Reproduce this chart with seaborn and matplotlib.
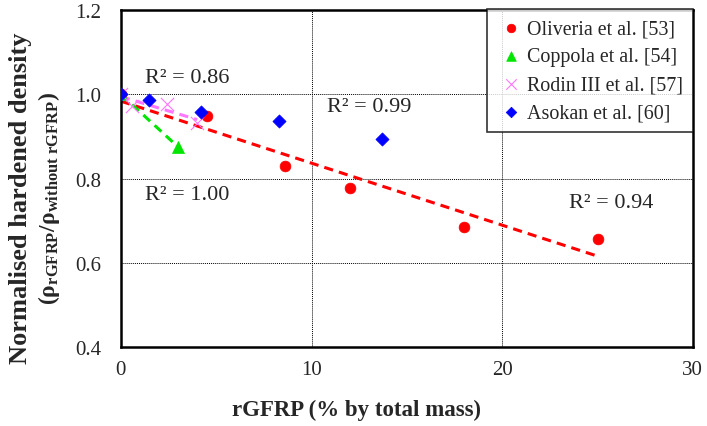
import numpy as np
import pandas as pd
import seaborn as sns
import matplotlib.pyplot as plt

# rGFRP content (% by total mass) vs normalised hardened density
oliveria_x = [0, 4.5, 8.6, 12.0, 18.0, 25.0]
oliveria_y = [1.0, 0.949, 0.830, 0.778, 0.686, 0.657]
coppola_x = [0, 3.0]
coppola_y = [1.0, 0.875]
rodin_x = [0, 0.6, 2.4, 4.0]
rodin_y = [1.0, 0.973, 0.977, 0.933]
asokan_x = [0, 1.5, 4.2, 8.3, 13.7]
asokan_y = [1.0, 0.986, 0.957, 0.936, 0.894]

labels = ["Oliveria et al. [53]", "Coppola et al. [54]",
          "Rodin III et al. [57]", "Asokan et al. [60]"]
r2_text = ["R² = 0.94", "R² = 1.00", "R² = 0.86", "R² = 0.99"]

sns.set_style("white")
plt.rcParams["font.family"] = ["Liberation Serif", "DejaVu Serif"]
plt.rcParams["mathtext.fontset"] = "custom"
plt.rcParams["mathtext.rm"] = "Liberation Serif"
plt.rcParams["mathtext.bf"] = "Liberation Serif:bold"
plt.rcParams["mathtext.it"] = "Liberation Serif:italic"

fig = plt.figure(figsize=(7.07, 4.27), dpi=100)
ax = fig.add_axes([0.171, 0.185, 0.809, 0.789])

series = [
    (oliveria_x, oliveria_y, "#FF0000", "o", 60, True),
    (coppola_x, coppola_y, "#00E600", "^", 75, True),
    (rodin_x, rodin_y, "#FF77FF", "x", 90, True),
    (asokan_x, asokan_y, "#0000FF", "D", 45, False),
]

for (xs, ys, col, mk, sz, fit), lab in zip(series, labels):
    df = pd.DataFrame({"x": xs, "y": ys})
    if fit:
        sns.regplot(data=df, x="x", y="y", ax=ax, scatter=False, ci=None,
                    truncate=True, color=col,
                    line_kws={"ls": (0, (3, 2)), "lw": 2.2, "zorder": 2})
    kw = {"linewidth": 0.8} if mk == "x" else {"edgecolor": col, "linewidth": 0.5}
    sns.scatterplot(data=df, x="x", y="y", ax=ax, color=col, marker=mk, s=sz,
                    label=lab, zorder=3, **kw)

ax.text(23.5, 0.742, r2_text[0], fontsize=16, va="center")
ax.text(1.25, 0.763, r2_text[1], fontsize=16, va="center")
ax.text(1.25, 1.041, r2_text[2], fontsize=16, va="center")
ax.text(10.8, 0.970, r2_text[3], fontsize=16, va="center")

ax.set_xlim(0, 30)
ax.set_ylim(0.4, 1.2)
ax.set_xticks([0, 10, 20, 30])
ax.set_yticks([0.4, 0.6, 0.8, 1.0, 1.2])
ax.set_yticklabels(["0.4", "0.6", "0.8", "1.0", "1.2"])
ax.tick_params(axis="both", length=0, labelsize=15)
ax.tick_params(axis="x", pad=9)
ax.tick_params(axis="y", pad=14)
ax.grid(True, color="black", ls=(0, (1, 1)), lw=0.7)
for sp in ax.spines.values():
    sp.set_color("black")
    sp.set_linewidth(1.8)

ax.set_xlabel("")
ax.set_ylabel("")
fig.text(0.504, 0.04, "rGFRP (% by total mass)", fontsize=16.5,
         fontweight="bold", ha="center", va="center")
fig.text(0.029, 0.535, "Normalised hardened density", rotation=90,
         fontsize=19, fontweight="bold", ha="center", va="center")
fig.text(0.069, 0.535, r"$\mathbf{(\rho_{rGFRP}/\rho_{without\ rGFRP})}$",
         rotation=90, fontsize=17, ha="center", va="center")

leg = ax.legend(loc="upper right", bbox_to_anchor=(1.0, 1.003), borderaxespad=0,
                fontsize=14.4, frameon=True, fancybox=False, handletextpad=0.1,
                handlelength=1.4, markerscale=0.8, labelspacing=0.45,
                borderpad=0.5)
leg.get_frame().set_edgecolor("black")
leg.get_frame().set_linewidth(1.2)

fig.savefig("out.png", dpi=100)
